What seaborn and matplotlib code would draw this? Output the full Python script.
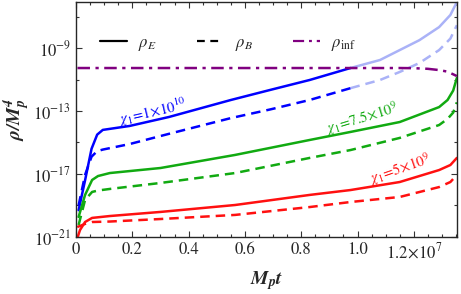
import numpy as np
import matplotlib
matplotlib.use("Agg")
import matplotlib.pyplot as plt
from matplotlib.lines import Line2D
from matplotlib.ticker import FixedLocator, MultipleLocator, NullFormatter
import seaborn as sns

# ── Data ─────────────────────────────────────────────────────────────────────
# time in units of 1e7 (M_p t), energy densities as log10(rho / M_p^4)

t_blue = np.array([0.009, 0.032, 0.055, 0.075, 0.095, 0.19, 0.33, 0.55, 0.69,
                   0.83, 0.975, 1.08, 1.15, 1.22, 1.29, 1.33, 1.353])
blue_E = np.array([-19.3, -17.4, -15.4, -14.5, -14.2, -13.95, -13.38, -12.3, -11.66,
                   -11.03, -10.27, -9.76, -9.13, -8.5, -7.67, -6.9, -6.08])
blue_B = np.array([-19.0, -17.06, -15.9, -15.55, -15.45, -15.1, -14.45, -13.45, -12.9,
                   -12.3, -11.55, -11.03, -10.52, -9.95, -9.13, -8.4, -7.55])
T_FADE = 0.975   # rho_E overtakes rho_inf -> drawn faded afterwards

t_green = np.array([0.009, 0.032, 0.057, 0.078, 0.12, 0.30, 0.565, 0.83, 0.975,
                    1.15, 1.29, 1.32, 1.34, 1.353])
green_E = np.array([-19.73, -18.33, -17.38, -17.13, -16.94, -16.62, -15.79, -14.84,
                    -14.33, -13.70, -12.75, -12.3, -11.7, -10.9])
green_B = np.array([-20.24, -18.65, -18.14, -18.05, -17.95, -17.57, -16.94, -15.98,
                    -15.48, -14.71, -13.89, -13.5, -13.1, -12.45])

t_red = np.array([0.004, 0.014, 0.032, 0.057, 0.12, 0.30, 0.565, 0.83, 0.975,
                  1.15, 1.29, 1.33, 1.353])
red_E = np.array([-21.1, -20.56, -20.05, -19.79, -19.67, -19.41, -18.97, -18.33,
                  -18.02, -17.51, -16.75, -16.43, -15.98])
red_B = np.array([-20.37, -20.3, -20.17, -20.05, -20.02, -19.86, -19.6, -19.1,
                  -18.78, -18.46, -17.83, -17.51, -17.06])

t_inf = np.array([0.005, 0.3, 0.6, 0.9, 1.15, 1.2, 1.25, 1.29, 1.32, 1.353])
rho_inf = np.array([-10.27, -10.27, -10.27, -10.27, -10.27, -10.28, -10.32,
                    -10.40, -10.5, -10.78])

x_ticks = [0, 0.2, 0.4, 0.6, 0.8, 1.0, 1.2]
x_ticklabels = ["0", "0.2", "0.4", "0.6", "0.8", "1.0", r"$1.2\!\times\!10^{7}$"]
y_ticks = [1e-21, 1e-17, 1e-13, 1e-9]
y_ticklabels = [r"$10^{-21}$", r"$10^{-17}$", r"$10^{-13}$", r"$10^{-9}$"]
y_minor = [1e-19, 1e-15, 1e-11, 1e-7]

# ── Style ────────────────────────────────────────────────────────────────────
sns.set_style("ticks")
plt.rcParams["font.family"] = ["STIXGeneral", "DejaVu Serif"]
plt.rcParams["mathtext.fontset"] = "stix"

BLUE = "#0000ff"
BLUE_LIGHT = "#aab2f7"
GREEN = "#11aa11"
RED = "#ff1010"
PURPLE = "#800080"
LW = 1.8
DASH = (0, (3.8, 2.4))
DASHDOT = (0, (5.0, 2.2, 1.3, 2.2))

fig = plt.figure(figsize=(4.61, 2.94), dpi=100)
ax = fig.add_axes([0.165, 0.194, 0.826, 0.799])


def line(t, logy, color, ls):
    sns.lineplot(x=t, y=10.0 ** logy, ax=ax, color=color, linestyle=ls,
                 linewidth=LW, sort=False)


# blue: dark before rho_E crosses rho_inf, faded afterwards
dark = t_blue <= T_FADE
light = t_blue >= T_FADE
line(t_blue[light], blue_E[light], BLUE_LIGHT, "-")
line(t_blue[light], blue_B[light], BLUE_LIGHT, DASH)
line(t_blue[dark], blue_E[dark], BLUE, "-")
line(t_blue[dark], blue_B[dark], BLUE, DASH)

line(t_green, green_E, GREEN, "-")
line(t_green, green_B, GREEN, DASH)
line(t_red, red_E, RED, "-")
line(t_red, red_B, RED, DASH)
line(t_inf, rho_inf, PURPLE, DASHDOT)

# ── Axes ─────────────────────────────────────────────────────────────────────
ax.set_yscale("log")
ax.set_xlim(0, 1.353)
ax.set_ylim(1e-21, 10 ** -6.08)

ax.set_xticks(x_ticks)
ax.set_xticklabels(x_ticklabels)
ax.xaxis.set_minor_locator(MultipleLocator(0.05))
ax.yaxis.set_major_locator(FixedLocator(y_ticks))
ax.set_yticklabels(y_ticklabels)
ax.yaxis.set_minor_locator(FixedLocator(y_minor))
ax.yaxis.set_minor_formatter(NullFormatter())

ax.tick_params(which="both", direction="in", top=True, right=True,
               labelsize=12, width=0.8, color="#333333")
ax.tick_params(which="major", length=4)
ax.tick_params(which="minor", length=2.5)
for sp in ax.spines.values():
    sp.set_linewidth(1.0)

ax.set_xlabel(r"$\mathbfit{M_p t}$", fontsize=14, labelpad=5)
ax.set_ylabel(r"$\mathbfit{\rho/M_p^4}$", fontsize=14, labelpad=1)

# ── Curve labels ─────────────────────────────────────────────────────────────
ax.text(0.27, 10 ** -13.1, r"$\chi_1\!=\!1\!\times\!10^{10}$", color=BLUE,
        fontsize=10.5, rotation=13, ha="center", va="center", rotation_mode="anchor")
ax.text(1.015, 10 ** -13.5, r"$\chi_1\!=\!7.5\!\times\!10^{9}$", color=GREEN,
        fontsize=10.5, rotation=17, ha="center", va="center", rotation_mode="anchor")
ax.text(1.15, 10 ** -16.7, r"$\chi_1\!=\!5\!\times\!10^{9}$", color=RED,
        fontsize=10.5, rotation=19, ha="center", va="center", rotation_mode="anchor")

# ── Legend ───────────────────────────────────────────────────────────────────
handles = [
    Line2D([], [], color="black", lw=1.6, linestyle="-"),
    Line2D([], [], color="black", lw=1.6, linestyle=(0, (3.5, 2.5))),
    Line2D([], [], color=PURPLE, lw=1.6, linestyle=DASHDOT),
]
ax.legend(handles, [r"$\rho_E$", r"$\rho_B$", r"$\rho_{\rm inf}$"],
          loc="center left", bbox_to_anchor=(0.063, 0.821), ncol=3,
          frameon=False, fontsize=12, handlelength=1.6, handletextpad=0.7,
          columnspacing=2.4, borderpad=0, borderaxespad=0)

fig.savefig("out.png", dpi=100)
